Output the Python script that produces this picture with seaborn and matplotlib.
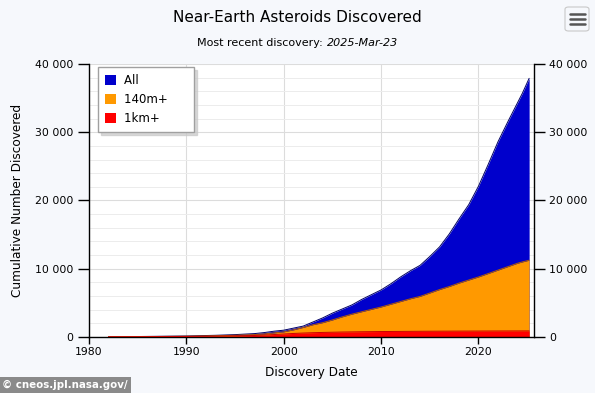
import matplotlib
matplotlib.use("Agg")
import matplotlib.pyplot as plt
import seaborn as sns
import pandas as pd
from matplotlib.patches import Patch, FancyBboxPatch
from matplotlib.lines import Line2D
from matplotlib.ticker import MultipleLocator, FuncFormatter

years = [1982, 1985, 1990, 1993, 1995, 1997, 1998, 1999, 2000, 2001, 2002, 2003,
         2004, 2005, 2006, 2007, 2008, 2009, 2010, 2011, 2012, 2013, 2014, 2015,
         2016, 2017, 2018, 2019, 2020, 2021, 2022, 2023, 2024, 2024.5, 2025.2]
all_neas = [40, 70, 150, 250, 350, 500, 650, 850, 1000, 1300, 1600, 2200,
            2800, 3500, 4100, 4700, 5500, 6200, 6900, 7800, 8800, 9700, 10500, 11800,
            13200, 15100, 17300, 19400, 22100, 25300, 28600, 31500, 34300, 35700, 37900]
neas_140m = [30, 50, 110, 180, 250, 350, 450, 600, 750, 1050, 1400, 1800,
             2100, 2500, 2950, 3350, 3700, 4050, 4400, 4800, 5200, 5600, 5950, 6450,
             6950, 7400, 7900, 8350, 8800, 9300, 9800, 10300, 10800, 11000, 11250]
neas_1km = [25, 40, 80, 120, 160, 220, 280, 360, 440, 520, 580, 630,
            670, 700, 730, 750, 770, 785, 800, 810, 820, 830, 840, 848,
            855, 860, 866, 870, 875, 880, 884, 888, 892, 894, 896]

series_names = ["All", "140m+", "1km+"]
series_colors = ["#0000cc", "#ff9900", "#ff0000"]
edge_colors = ["#000066", "#b35c00", "#cc0000"]

df = pd.DataFrame({"Year": years, "All": all_neas, "140m+": neas_140m, "1km+": neas_1km})

sns.set_style("white")
plt.rcParams["font.family"] = ["DejaVu Sans"]
plt.rcParams["text.color"] = "black"
plt.rcParams["axes.labelcolor"] = "black"
plt.rcParams["xtick.color"] = "black"
plt.rcParams["ytick.color"] = "black"

fig = plt.figure(figsize=(5.95, 3.93), dpi=100, facecolor="#f6f8fc")
ax = fig.add_axes([89 / 595, 56 / 393, 445 / 595, 273 / 393])
ax.set_facecolor("white")

for name, col, ecol in zip(series_names, series_colors, edge_colors):
    ax.fill_between(df["Year"], 0, df[name], color=col, linewidth=0, zorder=2)
    sns.lineplot(x="Year", y=name, data=df, ax=ax, color=ecol, linewidth=0.7, zorder=3)

ax.set_xlim(1980, 2025.7)
ax.set_ylim(0, 40000)
ax.xaxis.set_major_locator(MultipleLocator(10))
ax.yaxis.set_major_locator(MultipleLocator(10000))
ax.yaxis.set_minor_locator(MultipleLocator(2000))
ax.yaxis.set_major_formatter(FuncFormatter(lambda v, p: f"{int(v):,}".replace(",", " ")))

ax.grid(True, which="major", axis="x", color="#dcdcdc", linewidth=0.8, zorder=0)
ax.grid(True, which="major", axis="y", color="#dcdcdc", linewidth=0.8, zorder=0)
ax.grid(True, which="minor", axis="y", color="#ececec", linewidth=0.7, zorder=0)
ax.set_axisbelow(True)

for side in ["left", "right", "bottom"]:
    ax.spines[side].set_visible(True)
    ax.spines[side].set_color("black")
    ax.spines[side].set_linewidth(1.0)
ax.spines["top"].set_visible(False)

ax.tick_params(axis="y", which="major", left=True, right=True, labelleft=True, labelright=True,
               direction="out", length=8, width=1, labelsize=7.8, pad=3)
ax.tick_params(axis="y", which="minor", length=0)
ax.tick_params(axis="x", which="major", bottom=True, direction="out", length=5, width=1,
               labelsize=7.8, pad=2)

ax.set_xlabel("Discovery Date", fontsize=8.7, labelpad=7)
ax.set_ylabel("Cumulative Number Discovered", fontsize=8.7, labelpad=8)

handles = [Patch(facecolor=c, edgecolor="none") for c in series_colors]
leg = ax.legend(handles, [n + "       " for n in series_names[:1]] +
                [n + "     " for n in series_names[1:]],
                loc="upper left", bbox_to_anchor=(0.02, 0.989),
                frameon=True, fancybox=False,
                shadow={"color": "#c8c8c8", "alpha": 0.7},
                prop={"size": 8.5},
                handlelength=0.95, handleheight=0.95, handletextpad=0.7,
                borderpad=0.6, labelspacing=0.5, borderaxespad=0)
leg.get_frame().set_edgecolor("#a0a0a0")
leg.get_frame().set_linewidth(1.0)
leg.set_zorder(5)

fig.text(0.5, 1 - 17 / 393, "Near-Earth Asteroids Discovered", ha="center", va="center",
         fontsize=11, color="black")

t1 = fig.text(0.5, 1 - 43 / 393, "Most recent discovery: ", ha="left", va="center",
              fontsize=8, color="black")
t2 = fig.text(0.5, 1 - 43 / 393, "2025-Mar-23", ha="left", va="center",
              fontsize=8, style="italic", color="black")
fig.canvas.draw()
r = fig.canvas.get_renderer()
w1 = t1.get_window_extent(r).width / fig.bbox.width
w2 = t2.get_window_extent(r).width / fig.bbox.width
x0 = 0.5 - (w1 + w2) / 2
t1.set_x(x0)
t2.set_x(x0 + w1)

# export menu icon
icon = FancyBboxPatch((565 / 595, 1 - 31 / 393), 24 / 595, 24 / 393,
                      boxstyle="round,pad=0,rounding_size=0.006", transform=fig.transFigure,
                      facecolor="#f6f8fc", edgecolor="#c8c8c8", linewidth=0.8)
fig.patches.append(icon)
for yy in [13.5, 18.5, 23.5]:
    fig.lines.append(Line2D([569.5 / 595, 585 / 595], [1 - yy / 393, 1 - yy / 393],
                            transform=fig.transFigure, color="#555555", linewidth=1.8))

fig.text(0.004, 8 / 393, "© cneos.jpl.nasa.gov/", ha="left", va="center", fontsize=7.4,
         fontweight="bold", color="white",
         bbox=dict(boxstyle="square,pad=0.3", facecolor="#8a8a8a", edgecolor="none"))

fig.savefig("out.png", dpi=100, facecolor=fig.get_facecolor())
plt.close(fig)
